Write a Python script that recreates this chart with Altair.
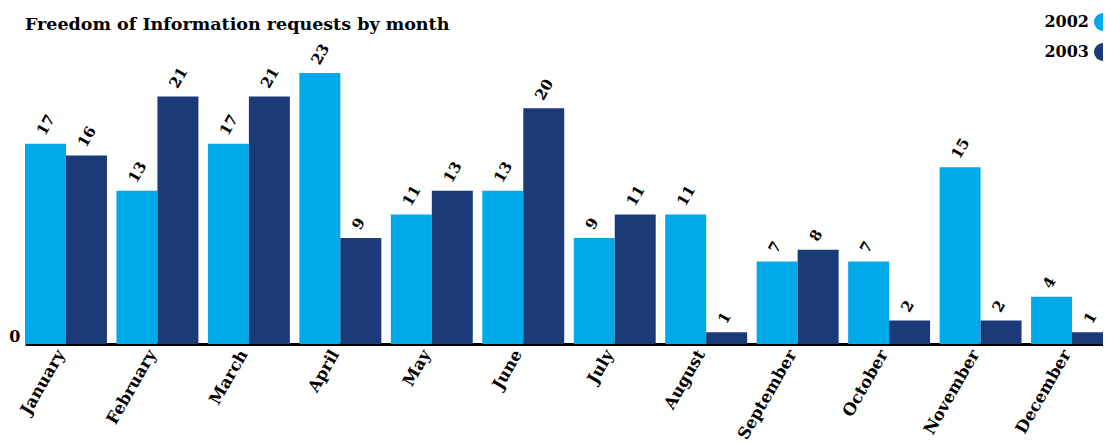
import altair as alt
import pandas as pd

months = ["January", "February", "March", "April", "May", "June", "July",
          "August", "September", "October", "November", "December"]
v2002 = [17, 13, 17, 23, 11, 13, 9, 11, 7, 7, 15, 4]
v2003 = [16, 21, 21, 9, 13, 20, 11, 1, 8, 2, 2, 1]
years = ["2002", "2003"]
colors = ["#00A9E9", "#1A3A78"]

rows = []
for i, m in enumerate(months):
    rows.append({"month": m, "year": years[0], "series": years[0], "value": v2002[i]})
    rows.append({"month": m, "year": years[1], "series": years[1], "value": v2003[i]})
df = pd.DataFrame(rows)

FONT = "DejaVu Serif"

x = alt.X("month:N", sort=months, title=None,
          scale=alt.Scale(paddingInner=0.104, paddingOuter=0, range=[0, 1088]),
          axis=alt.Axis(labelAngle=-60, labelAlign="right", labelBaseline="middle",
                        labelFont=FONT, labelFontWeight="bold", labelFontSize=16.5,
                        labelColor="black", labelPadding=7, labelOffset=-5, ticks=False,
                        domainColor="black", domainWidth=3))
xo = alt.XOffset("year:N", sort=years)
y = alt.Y("value:Q", title=None, scale=alt.Scale(domain=[0, 23], nice=False),
          axis=alt.Axis(values=[0], grid=False, ticks=False, domain=False,
                        labelFont=FONT, labelFontWeight="bold", labelFontSize=16,
                        labelColor="black", labelPadding=5, labelBaseline="bottom"))
color = alt.Color("year:N", sort=years,
                  scale=alt.Scale(domain=years, range=colors),
                  legend=alt.Legend(title=None, orient="none", legendX=1069, legendY=-60,
                                    symbolType="circle", symbolSize=324,
                                    symbolStrokeWidth=0, symbolOpacity=1,
                                    labelExpr="''", labelFontSize=1,
                                    rowPadding=12))
color_txt = alt.Color("series:N", sort=years,
                      scale=alt.Scale(domain=years, range=["black", "black"]),
                      legend=alt.Legend(title=None, orient="none", legendX=1046, legendY=-60,
                                        symbolType="circle", symbolSize=324,
                                        symbolOpacity=0, symbolStrokeWidth=0,
                                        labelAlign="right", labelOffset=0,
                                        labelFont=FONT, labelFontWeight="bold",
                                        labelFontSize=16, labelColor="black",
                                        rowPadding=12))

base = alt.Chart(df)
bars = base.mark_bar(opacity=1).encode(x=x, xOffset=xo, y=y, color=color)
labels = base.mark_text(angle=300, align="left", baseline="middle", dx=6, dy=-9,
                        font=FONT, fontWeight="bold", fontSize=15).encode(
    x=x, xOffset=xo, y=y, text="value:Q", color=color_txt)

chart = alt.layer(bars, labels).resolve_scale(color="independent").properties(
    width=1078, height=271,
    background="white",
    autosize=alt.AutoSizeParams(type="none"),
    title=alt.TitleParams("Freedom of Information requests by month",
                          anchor="start", frame="group", font=FONT, fontWeight="bold",
                          fontSize=17.5, color="black", offset=-20),
    padding={"left": 17, "top": 65, "right": 0, "bottom": 100},
).configure_view(stroke="transparent", strokeWidth=0)

chart.save("out.html", embed_options={"renderer": "svg", "actions": False})
